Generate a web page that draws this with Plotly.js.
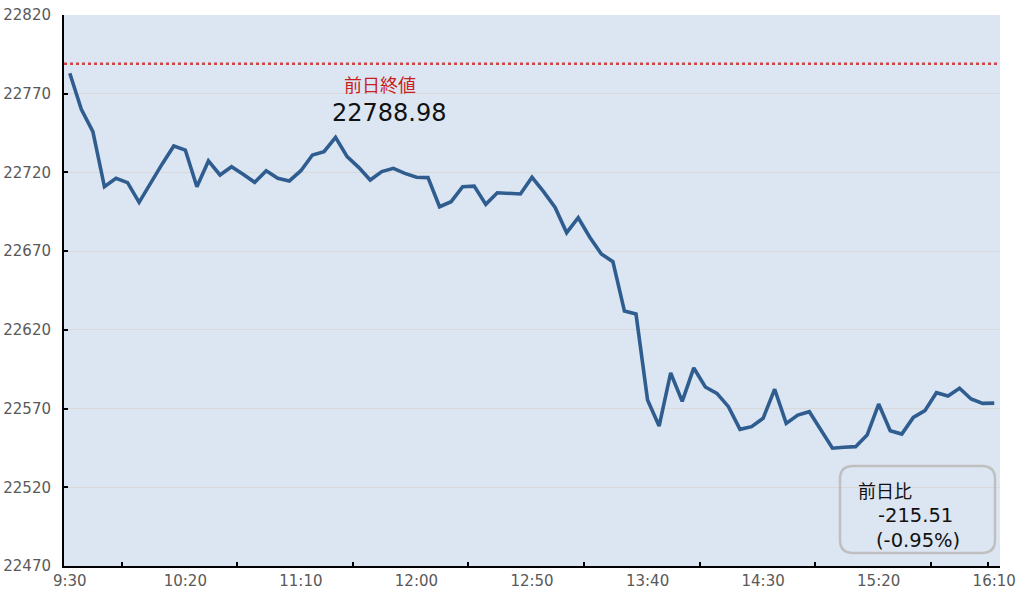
<!DOCTYPE html>
<html>
<head>
<meta charset="utf-8">
<script src="https://cdn.plot.ly/plotly-3.0.1.min.js"></script>
<style>html,body{margin:0;padding:0;background:#fff;}#chart{width:1027px;height:596px;}</style>
</head>
<body>
<div id="chart"></div>
<script>
// ---- data ----
const startHour = 9, startMin = 30, stepMin = 5, nPoints = 81;
const times = [];
for (let i = 0; i < nPoints; i++) {
  const m = startHour * 60 + startMin + i * stepMin;
  times.push(Math.floor(m / 60) + ':' + String(m % 60).padStart(2, '0'));
}
const values = [
  22783.0, 22760.1, 22745.9, 22710.9, 22716.3, 22713.5, 22701.0, 22713.6, 22725.4, 22736.8,
  22734.2, 22710.9, 22727.3, 22718.4, 22723.6, 22718.8, 22713.7, 22721.1, 22716.3, 22714.6,
  22721.1, 22731.1, 22733.2, 22742.3, 22730.0, 22723.2, 22715.2, 22720.5, 22722.6, 22719.4,
  22716.9, 22716.7, 22698.2, 22701.4, 22710.9, 22711.3, 22699.7, 22707.1, 22706.7, 22706.3,
  22716.9, 22707.8, 22697.8, 22681.7, 22691.2, 22678.8, 22668.2, 22663.3, 22631.9, 22630.1,
  22575.5, 22558.9, 22592.6, 22574.6, 22595.8, 22583.7, 22579.7, 22571.2, 22556.8, 22558.5,
  22563.8, 22582.3, 22560.6, 22565.9, 22568.0, 22556.4, 22544.8, 22545.4, 22545.8, 22553.2,
  22572.9, 22555.9, 22553.8, 22564.4, 22568.7, 22580.1, 22578.0, 22582.9, 22576.1, 22573.3,
  22573.47
];
const prevClose = 22788.98;
const prevCloseLabel = '前日終値';
const changeLabel = '前日比';
const changeValue = '-215.51';
const changePct = '(-0.95%)';
const yTicks = [22470, 22520, 22570, 22620, 22670, 22720, 22770, 22820];
const xLabelIdx = [0, 10, 20, 30, 40, 50, 60, 70, 80];
const xMinorTicks = [4.5, 14.5, 24.5, 34.5, 44.5, 54.5, 64.5, 74.5, 79.5];

// ---- layout helpers ----
const W = 1027, H = 596, L = 64, R = 27, T = 15, B = 30;
const pw = W - L - R, ph = H - T - B;
const px2x = p => (p - L) / pw;
const py2y = p => (H - B - p) / ph;
function roundedRect(x0, y0, x1, y1, r) {
  const P = (x, y) => px2x(x).toFixed(5) + ',' + py2y(y).toFixed(5);
  return 'M' + P(x0 + r, y0) + ' L' + P(x1 - r, y0) + ' Q' + P(x1, y0) + ' ' + P(x1, y0 + r) +
    ' L' + P(x1, y1 - r) + ' Q' + P(x1, y1) + ' ' + P(x1 - r, y1) +
    ' L' + P(x0 + r, y1) + ' Q' + P(x0, y1) + ' ' + P(x0, y1 - r) +
    ' L' + P(x0, y0 + r) + ' Q' + P(x0, y0) + ' ' + P(x0 + r, y0) + ' Z';
}

const xIdx = times.map((t, i) => i);
const font = 'DejaVu Sans, sans-serif';
const cjk = 'Noto Sans CJK JP, sans-serif';

const traces = [{
  x: xIdx, y: values, type: 'scatter', mode: 'lines',
  line: {color: '#2F5D8F', width: 3.6, shape: 'linear'},
  hoverinfo: 'skip', showlegend: false
}];

const layout = {
  width: W, height: H,
  margin: {l: L, r: R, t: T, b: B, pad: 0},
  paper_bgcolor: '#ffffff',
  plot_bgcolor: '#DCE6F2',
  showlegend: false,
  xaxis: {
    range: [-0.5, nPoints - 0.5],
    tickmode: 'array', tickvals: xLabelIdx, ticktext: xLabelIdx.map(i => times[i]),
    ticks: '', showgrid: false, zeroline: false,
    showline: true, linecolor: '#000000', linewidth: 2,
    tickfont: {family: font, size: 15, color: '#595959'},
    minor: {tickmode: 'array', tickvals: xMinorTicks, ticks: 'inside', ticklen: 4, tickcolor: '#000000', tickwidth: 2, showgrid: false}
  },
  yaxis: {
    range: [22470, 22820],
    tickmode: 'array', tickvals: yTicks, ticktext: yTicks.map(String),
    ticks: 'inside', ticklen: 4, tickcolor: '#000000', tickwidth: 2,
    showgrid: true, gridcolor: '#D9D9D9', gridwidth: 1, zeroline: false,
    showline: true, linecolor: '#000000', linewidth: 2,
    tickfont: {family: font, size: 15, color: '#595959'},
    ticklabelstandoff: 8
  },
  shapes: [
    {type: 'line', xref: 'paper', yref: 'y', x0: 0, x1: 1, y0: prevClose, y1: prevClose,
     line: {color: '#D04545', width: 2.5, dash: 'dot'}, layer: 'below'},
    {type: 'path', xref: 'paper', yref: 'paper', path: roundedRect(840, 466, 995, 553, 13),
     line: {color: '#BFBFBF', width: 2.5}, fillcolor: 'rgba(0,0,0,0)'}
  ],
  annotations: [
    {xref: 'paper', yref: 'paper', x: px2x(380), y: py2y(84), text: prevCloseLabel, showarrow: false,
     xanchor: 'center', yanchor: 'middle', font: {family: cjk, size: 18, color: '#C81E1E'}},
    {xref: 'paper', yref: 'paper', x: px2x(389), y: py2y(113), text: prevClose.toFixed(2), showarrow: false,
     xanchor: 'center', yanchor: 'middle', font: {family: font, size: 24, color: '#111111'}},
    {xref: 'paper', yref: 'paper', x: px2x(856), y: py2y(490), text: changeLabel, showarrow: false,
     xanchor: 'left', yanchor: 'middle', font: {family: cjk, size: 18, color: '#111111'}},
    {xref: 'paper', yref: 'paper', x: px2x(876), y: py2y(515), text: changeValue, showarrow: false,
     xanchor: 'left', yanchor: 'middle', font: {family: font, size: 19.5, color: '#111111'}},
    {xref: 'paper', yref: 'paper', x: px2x(874), y: py2y(540), text: changePct, showarrow: false,
     xanchor: 'left', yanchor: 'middle', font: {family: font, size: 19.5, color: '#111111'}}
  ]
};

Plotly.newPlot('chart', traces, layout, {staticPlot: true, displayModeBar: false});
</script>
</body>
</html>
